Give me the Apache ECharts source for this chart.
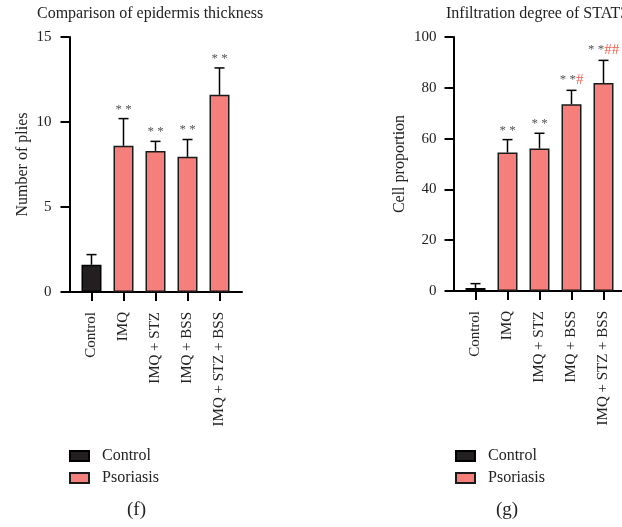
<!DOCTYPE html>
<html><head><meta charset="utf-8">
<script src="https://cdn.jsdelivr.net/npm/echarts@6/dist/echarts.min.js"></script>
<style>html,body{margin:0;padding:0;background:#fff}#c{width:622px;height:527px}</style>
</head><body><div id="c"></div>
<script>
const categories = ['Control', 'IMQ', 'IMQ + STZ', 'IMQ + BSS', 'IMQ + STZ + BSS'];
const groupNames = ['Control', 'Psoriasis'];
// (f) Comparison of epidermis thickness
const thicknessMean = [1.6, 8.6, 8.3, 7.95, 11.6];
const thicknessErr = [0.6, 1.6, 0.56, 1.02, 1.58];
const thicknessStars = ['', '**', '**', '**', '**'];
const thicknessHash = ['', '', '', '', ''];
const thicknessTicks = [0, 5, 10, 15];
// (g) Infiltration degree of STAT3
const stat3Mean = [1.2, 54.5, 56.1, 73.5, 81.9];
const stat3Err = [1.7, 5.1, 6.0, 5.5, 8.9];
const stat3Stars = ['', '**', '**', '**', '**'];
const stat3Hash = ['', '', '', '#', '##'];
const stat3Ticks = [0, 20, 40, 60, 80, 100];

const FONT = '"Liberation Serif", "DejaVu Serif", serif';
const BLACK = '#231f20';
const PINK = '#f47f7b';
const STAR = '#555555';
const HASH = '#f4604f';
const TXT = '#222';

const chart = echarts.init(document.getElementById('c'), null, {renderer: 'canvas'});

function ctrlData(arr) { return arr.map((v, i) => i === 0 ? v : '-'); }
function psoData(arr) { return arr.map((v, i) => i === 0 ? '-' : v); }

function errSeries(gi, mean, err, stars, hash) {
  return {
    type: 'custom', xAxisIndex: gi, yAxisIndex: gi, z: 5, silent: true,
    data: mean.map((m, i) => [i, m, m + err[i]]),
    renderItem: function (params, api) {
      const i = api.value(0);
      const top = api.coord([i, api.value(1)]);
      const hi = api.coord([i, api.value(2)]);
      const cap = 5;
      const children = [
        {type: 'line', shape: {x1: top[0], y1: top[1], x2: hi[0], y2: hi[1]}, style: {stroke: '#000', lineWidth: 1.5}},
        {type: 'line', shape: {x1: hi[0] - cap, y1: hi[1], x2: hi[0] + cap, y2: hi[1]}, style: {stroke: '#000', lineWidth: 1.5}}
      ];
      const s = stars[i], h = hash[i];
      if (s || h) {
        children.push({
          type: 'text', x: hi[0], y: hi[1] - 3,
          style: {
            text: (s ? '{s|' + s.split('').join(' ') + '}' : '') + (h ? '{h|' + h + '}' : ''),
            align: 'center', verticalAlign: 'bottom',
            rich: {
              s: {fontFamily: FONT, fontSize: 13, fill: STAR},
              h: {fontFamily: FONT, fontSize: 15, fill: HASH}
            }
          }
        });
      }
      return {type: 'group', children: children};
    }
  };
}

function barSeries(gi, mean) {
  return [
    {name: groupNames[0], type: 'bar', xAxisIndex: gi, yAxisIndex: gi, data: ctrlData(mean), barWidth: 20, barGap: '-100%',
      itemStyle: {color: BLACK, borderColor: '#000', borderWidth: 1.5}},
    {name: groupNames[1], type: 'bar', xAxisIndex: gi, yAxisIndex: gi, data: psoData(mean), barWidth: 20, barGap: '-100%',
      itemStyle: {color: PINK, borderColor: '#1a1a1a', borderWidth: 1.5}}
  ];
}

const axisLineStyle = {color: '#000', width: 2};
function yAxisCfg(gi, ticks, name, gap, margin) {
  return {
    type: 'value', gridIndex: gi, min: ticks[0], max: ticks[ticks.length - 1], interval: ticks[1] - ticks[0],
    offset: 6, name: name, nameLocation: 'middle', nameGap: gap,
    nameTextStyle: {fontFamily: FONT, fontSize: 16, color: TXT},
    axisLine: {show: true, lineStyle: axisLineStyle},
    axisTick: {show: true, length: 9, lineStyle: {color: '#000', width: 2}},
    axisLabel: {fontFamily: FONT, fontSize: 15, color: TXT, margin: margin},
    splitLine: {show: false}
  };
}
function xAxisCfg(gi) {
  return {
    type: 'category', gridIndex: gi, data: categories, boundaryGap: true,
    axisLine: {show: false},
    axisTick: {show: true, alignWithLabel: true, length: 9, lineStyle: {color: '#000', width: 2}},
    axisLabel: {rotate: 90, fontFamily: FONT, fontSize: 15, color: TXT, margin: 20, interval: 0}
  };
}
function lineAxisX(gi) {
  return {type: 'value', gridIndex: gi, min: 0, max: 1, axisLine: {show: true, lineStyle: axisLineStyle},
    axisTick: {show: false}, axisLabel: {show: false}, splitLine: {show: false}};
}
function lineAxisY(gi) {
  return {type: 'value', gridIndex: gi, min: 0, max: 1, show: false};
}

const legendCommon = {
  orient: 'vertical', itemWidth: 19, itemHeight: 10, itemGap: 6, icon: 'rect', padding: 0,
  textStyle: {fontFamily: FONT, fontSize: 16, color: TXT, padding: [0, 0, 0, 8]}, selectedMode: false,
  data: groupNames
};
const titleStyle = {fontFamily: FONT, fontSize: 16, fontWeight: 'normal', color: TXT};

chart.setOption({
  animation: false,
  backgroundColor: '#fff',
  title: [
    {text: 'Comparison of epidermis thickness', left: 37, top: 6, padding: 0, textStyle: titleStyle},
    {text: 'Infiltration degree of STAT3 positive cells', left: 446, top: 6, padding: 0, textStyle: titleStyle},
    {text: '(f)', left: 127, top: 501, padding: 0, textStyle: {fontFamily: FONT, fontSize: 19, fontWeight: 'normal', color: TXT}},
    {text: '(g)', left: 496, top: 501, padding: 0, textStyle: {fontFamily: FONT, fontSize: 19, fontWeight: 'normal', color: TXT}}
  ],
  legend: [
    Object.assign({left: 69, top: 448}, legendCommon),
    Object.assign({left: 455, top: 448}, legendCommon)
  ],
  grid: [
    {left: 75.5, top: 37, width: 160, height: 255},
    {left: 459.5, top: 37, width: 160, height: 254},
    {left: 70, top: 37, width: 172, height: 255},
    {left: 454, top: 37, width: 172, height: 254}
  ],
  xAxis: [xAxisCfg(0), xAxisCfg(1), lineAxisX(2), lineAxisX(3)],
  yAxis: [yAxisCfg(0, thicknessTicks, 'Number of plies', 39, 18), yAxisCfg(1, stat3Ticks, 'Cell proportion', 46, 17), lineAxisY(2), lineAxisY(3)],
  series: [
    ...barSeries(0, thicknessMean),
    errSeries(0, thicknessMean, thicknessErr, thicknessStars, thicknessHash),
    ...barSeries(1, stat3Mean),
    errSeries(1, stat3Mean, stat3Err, stat3Stars, stat3Hash)
  ]
});
</script></body></html>
